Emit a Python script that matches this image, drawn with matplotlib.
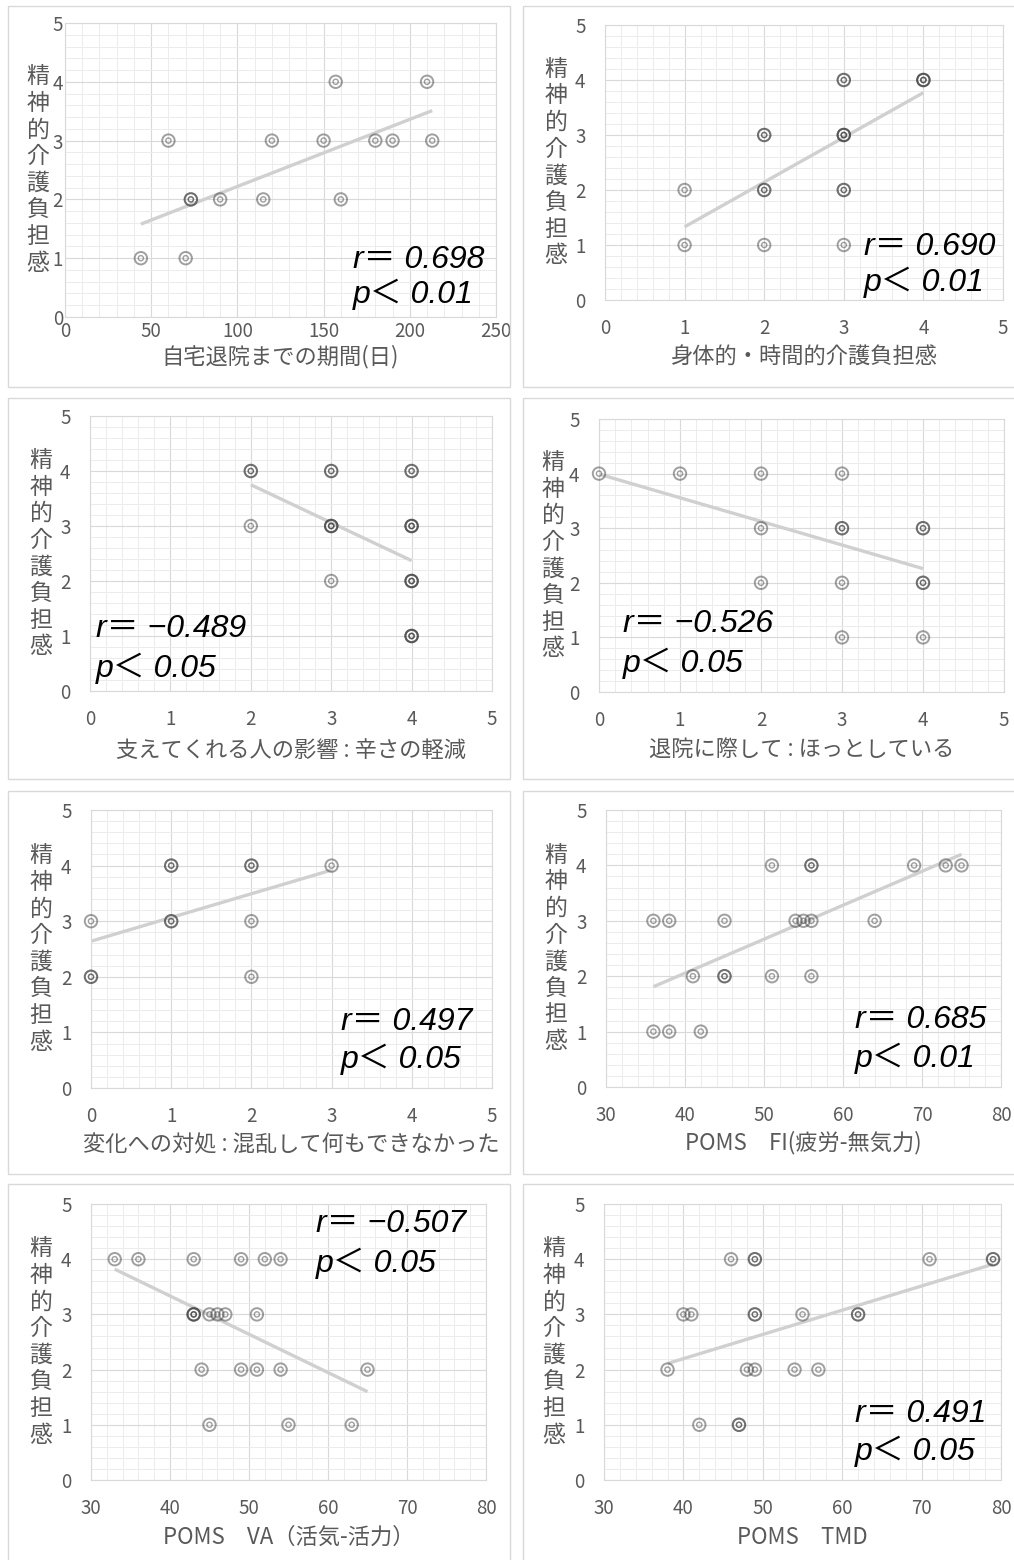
import matplotlib.pyplot as plt
from matplotlib.patches import Rectangle
from matplotlib.ticker import MultipleLocator

plt.rcParams['font.family'] = ['Noto Sans CJK JP', 'DejaVu Sans']

W, H = 1014, 1560
GRAY = "#595959"

y_label = "精神的介護負担感"

# x axis titles
x_labels = [
    "自宅退院までの期間(日)",
    "身体的・時間的介護負担感",
    "支えてくれる人の影響 : 辛さの軽減",
    "退院に際して : ほっとしている",
    "変化への対処 : 混乱して何もできなかった",
    "POMS　FI(疲労-無気力)",
    "POMS　VA（活気-活力）",
    "POMS　TMD",
]

# scatter data (repeated pairs = overlapping answers)
x1 = [44, 70, 60, 73, 73, 90, 115, 120, 150, 157, 160, 180, 190, 210, 213]
y1 = [1, 1, 3, 2, 2, 2, 2, 3, 3, 4, 2, 3, 3, 4, 3]

x2 = [1, 1, 2, 2, 2, 2, 2, 3, 3, 3, 3, 3, 3, 3, 3, 4, 4, 4]
y2 = [1, 2, 1, 2, 2, 3, 3, 1, 2, 2, 3, 3, 3, 4, 4, 4, 4, 4]

x3 = [2, 2, 2, 3, 3, 3, 3, 3, 3, 4, 4, 4, 4, 4, 4, 4, 4, 4, 4, 4]
y3 = [4, 4, 3, 4, 4, 3, 3, 3, 2, 4, 4, 3, 3, 3, 2, 2, 2, 1, 1, 1]

x4 = [0, 1, 2, 3, 2, 3, 3, 4, 4, 2, 3, 4, 4, 3, 4]
y4 = [4, 4, 4, 4, 3, 3, 3, 3, 3, 2, 2, 2, 2, 1, 1]

x5 = [0, 0, 0, 1, 1, 1, 1, 2, 2, 2, 2, 3]
y5 = [3, 2, 2, 4, 4, 3, 3, 4, 4, 3, 2, 4]

x6 = [51, 56, 56, 69, 73, 75, 36, 38, 45, 54, 55, 56, 64, 41, 45, 45, 51, 56, 36, 38, 42]
y6 = [4, 4, 4, 4, 4, 4, 3, 3, 3, 3, 3, 3, 3, 2, 2, 2, 2, 2, 1, 1, 1]

x7 = [33, 36, 43, 49, 52, 54, 43, 43, 43, 45, 46, 47, 51, 44, 49, 51, 54, 65, 45, 55, 63]
y7 = [4, 4, 4, 4, 4, 4, 3, 3, 3, 3, 3, 3, 3, 2, 2, 2, 2, 2, 1, 1, 1]

x8 = [46, 49, 49, 71, 79, 79, 40, 41, 49, 49, 55, 62, 62, 38, 48, 49, 54, 57, 42, 47, 47]
y8 = [4, 4, 4, 4, 4, 4, 3, 3, 3, 3, 3, 3, 3, 2, 2, 2, 2, 2, 1, 1, 1]

xs = [x1, x2, x3, x4, x5, x6, x7, x8]
ys = [y1, y2, y3, y4, y5, y6, y7, y8]

# linear trend line value at min(x) and max(x)
trend_start = [1.58, 1.33, 3.75, 3.99, 2.64, 1.81, 3.82, 2.11]
trend_end = [3.51, 3.77, 2.37, 2.26, 3.92, 4.20, 1.60, 3.91]

r_text = ["r＝ 0.698", "r＝ 0.690", "r＝ −0.489", "r＝ −0.526",
          "r＝ 0.497", "r＝ 0.685", "r＝ −0.507", "r＝ 0.491"]
p_text = ["p＜ 0.01", "p＜ 0.01", "p＜ 0.05", "p＜ 0.05",
          "p＜ 0.05", "p＜ 0.01", "p＜ 0.05", "p＜ 0.05"]

# x axis ranges: (min, max, major, minor)
x_ranges = [(0, 250, 50, 10)] + [(0, 5, 1, 0.2)] * 4 + [(30, 80, 10, 2)] * 3

# layout in pixels: plot area (left, top, right, bottom)
plot_px = [
    (65, 23, 496, 317), (605, 25, 1003, 300),
    (90, 416, 492, 691), (599, 419, 1004, 692),
    (91, 810, 492, 1088), (606, 810, 1001, 1087),
    (91, 1204, 486, 1480), (604, 1204, 1001, 1480),
]
box_px = [
    (8, 6, 510, 387), (523, 6, 1016, 387),
    (8, 398, 510, 779), (523, 398, 1016, 779),
    (8, 791, 510, 1174), (523, 791, 1016, 1174),
    (8, 1184, 510, 1562), (523, 1184, 1016, 1562),
]
ylab_x = [38, 556, 41, 553, 41, 556, 41, 554]
xlab_y = [357, 357, 750, 750, 1145, 1143, 1537, 1537]
# annotation: left x, baseline of r line, baseline of p line (axes fraction)
ann_pos = [
    (0.668, 0.167, 0.048), (0.651, 0.164, 0.033),
    (0.015, 0.196, 0.051), (0.059, 0.220, 0.073),
    (0.623, 0.209, 0.072), (0.630, 0.213, 0.072),
    (0.570, 0.899, 0.754), (0.632, 0.210, 0.072),
]

fig = plt.figure(figsize=(W / 100, H / 100), dpi=100)

for i in range(8):
    bl, bt, br, bb = box_px[i]
    fig.patches.append(Rectangle((bl / W, 1 - bb / H), (br - bl) / W, (bb - bt) / H,
                                 transform=fig.transFigure, fill=False,
                                 edgecolor="#d9d9d9", linewidth=1.0))

    l, t, r, b = plot_px[i]
    ax = fig.add_axes([l / W, 1 - b / H, (r - l) / W, (b - t) / H])
    xmin, xmax, major, minor = x_ranges[i]
    ax.set_xlim(xmin, xmax)
    ax.set_ylim(0, 5)
    ax.xaxis.set_major_locator(MultipleLocator(major))
    ax.xaxis.set_minor_locator(MultipleLocator(minor))
    ax.yaxis.set_major_locator(MultipleLocator(1))
    ax.yaxis.set_minor_locator(MultipleLocator(0.2))
    ax.grid(which="major", color="#d9d9d9", linewidth=0.8)
    ax.grid(which="minor", color="#ececec", linewidth=0.7)
    ax.set_axisbelow(True)
    for s in ax.spines.values():
        s.set_color("#d9d9d9")
        s.set_linewidth(0.8)

    ax.tick_params(which="both", length=0)
    ax.tick_params(axis="y", pad=1.5 if i == 0 else 14, labelsize=13.5, labelcolor=GRAY)
    ax.tick_params(axis="x", pad=3 if i == 0 else 13, labelsize=13.5, labelcolor=GRAY)

    x, y = xs[i], ys[i]
    ax.plot([min(x), max(x)], [trend_start[i], trend_end[i]],
            color="#d0d0d0", linewidth=2.4, solid_capstyle="butt", zorder=2)
    ax.scatter(x, y, s=80, facecolors="none", edgecolors="#404040",
               linewidths=1.4, alpha=0.5, zorder=3, clip_on=False)
    ax.scatter(x, y, s=14, facecolors="none", edgecolors="#404040",
               linewidths=1.0, alpha=0.5, zorder=3, clip_on=False)

    ax_l, ax_r, ax_b = ann_pos[i]
    for txt, yy in ((r_text[i], ax_r), (p_text[i], ax_b)):
        ax.text(ax_l, yy, txt, transform=ax.transAxes, ha="left", va="baseline",
                fontsize=23, style="italic", color="black",
                family=["Liberation Sans", "Noto Sans CJK JP"])

    fig.text(ylab_x[i] / W, 1 - (t + b) / 2 / H, "\n".join(y_label),
             ha="center", va="center", fontsize=16.5, color=GRAY, linespacing=1.2)
    fig.text((l + r) / 2 / W, 1 - xlab_y[i] / H, x_labels[i],
             ha="center", va="center", fontsize=16, color=GRAY)

fig.savefig("out.png", dpi=100)
